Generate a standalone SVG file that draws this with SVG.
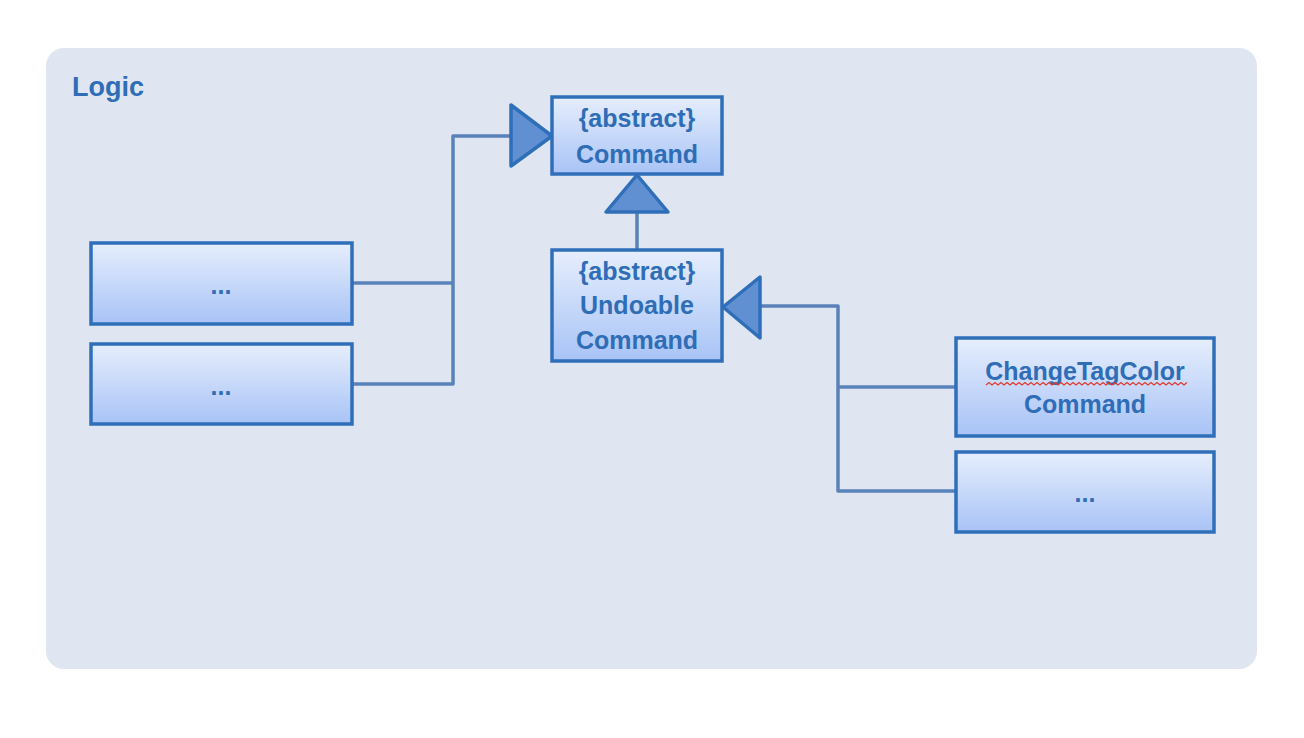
<svg xmlns="http://www.w3.org/2000/svg" width="1304" height="738" viewBox="0 0 1304 738">
<defs>
<linearGradient id="boxGrad" x1="0" y1="0" x2="0" y2="1">
<stop offset="0" stop-color="#e6eefd"/>
<stop offset="1" stop-color="#a8c3f6"/>
</linearGradient>
<style>
.box{fill:url(#boxGrad);stroke:#2f6fba;stroke-width:3.5}
.lbl{font-family:"Liberation Sans",Arial,sans-serif;font-weight:bold;font-size:25px;fill:#2f6db6;text-anchor:middle}
.conn{fill:none;stroke:#5a82ba;stroke-width:3.5;stroke-linejoin:round}
.tri{fill:#6190d2;stroke:#2f6fba;stroke-width:3.5;stroke-linejoin:round}
</style>
</defs>
<rect x="0" y="0" width="1304" height="738" fill="#ffffff"/>
<rect x="46" y="48" width="1211" height="621" rx="18" ry="18" fill="#dfe6f1"/>
<text x="72" y="96" font-family="Liberation Sans, Arial, sans-serif" font-weight="bold" font-size="27" fill="#2f6db6">Logic</text>
<g id="connectors">
<polyline class="conn" points="352,283 453,283"/>
<polyline class="conn" points="352,384 453,384 453,136 511,136"/>
<polyline class="conn" points="637,212 637,250"/>
<polyline class="conn" points="955,387 838,387"/>
<polyline class="conn" points="955,491 838,491 838,306 760,306"/>
<polygon class="tri" points="552,136 511,105 511,166"/>
<polygon class="tri" points="637,175 606,212 668,212"/>
<polygon class="tri" points="723,307 760,277 760,338"/>
</g>
<g id="command">
<rect class="box" x="552" y="97" width="170" height="77"/>
<text class="lbl" x="637" y="127">{abstract}</text>
<text class="lbl" x="637" y="163">Command</text>
</g>
<g id="undoable">
<rect class="box" x="552" y="250" width="170" height="111"/>
<text class="lbl" x="637" y="280">{abstract}</text>
<text class="lbl" x="637" y="314">Undoable</text>
<text class="lbl" x="637" y="349">Command</text>
</g>
<g id="left1">
<rect class="box" x="91" y="243" width="261" height="81"/>
<text class="lbl" x="221" y="294">...</text>
</g>
<g id="left2">
<rect class="box" x="91" y="344" width="261" height="80"/>
<text class="lbl" x="221" y="395">...</text>
</g>
<g id="changeTagColor">
<rect class="box" x="956" y="338" width="258" height="98"/>
<text class="lbl" x="1085" y="380">ChangeTagColor</text>
<text class="lbl" x="1085" y="413">Command</text>
<path d="M986,385 l3,-2.5 l3,2.5 l3,-2.5 l3,2.5 l3,-2.5 l3,2.5 l3,-2.5 l3,2.5 l3,-2.5 l3,2.5 l3,-2.5 l3,2.5 l3,-2.5 l3,2.5 l3,-2.5 l3,2.5 l3,-2.5 l3,2.5 l3,-2.5 l3,2.5 l3,-2.5 l3,2.5 l3,-2.5 l3,2.5 l3,-2.5 l3,2.5 l3,-2.5 l3,2.5 l3,-2.5 l3,2.5 l3,-2.5 l3,2.5 l3,-2.5 l3,2.5 l3,-2.5 l3,2.5 l3,-2.5 l3,2.5 l3,-2.5 l3,2.5 l3,-2.5 l3,2.5 l3,-2.5 l3,2.5 l3,-2.5 l3,2.5 l3,-2.5 l3,2.5 l3,-2.5 l3,2.5 l3,-2.5 l3,2.5 l3,-2.5 l3,2.5 l3,-2.5 l3,2.5 l3,-2.5 l3,2.5 l3,-2.5 l3,2.5 l3,-2.5 l3,2.5 l3,-2.5 l3,2.5 l3,-2.5 l3,2.5 l3,-2.5" fill="none" stroke="#e0382a" stroke-width="1.2"/>
</g>
<g id="right2">
<rect class="box" x="956" y="452" width="258" height="80"/>
<text class="lbl" x="1085" y="502">...</text>
</g>
</svg>
